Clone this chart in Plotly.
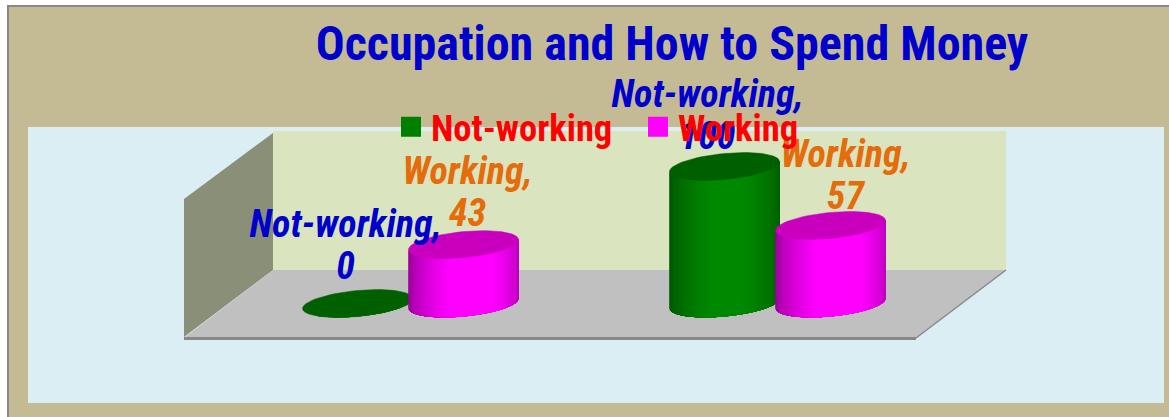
import math
import plotly.graph_objects as go

# ---- data ----
series_names = ["Not-working", "Working"]
not_working = [0, 100]
working = [43, 57]

# ---- styling ----
W, H = 1169, 417
FONT = "Roboto, Liberation Sans, Arial"
TAN = "#C4BB94"
SKY = "#DBEEF4"
WALL = "#DAE4BE"
SIDE = "#8A9078"
FLOOR = "#C0C0C0"
EDGE = "#888888"

# axis calibration: value -> pixel
PX_PER_VALUE = 1.37
PX_PER_GROUP = 367.0
Y0_PX = 303.5
X0_PX = 410.5

SERIES_OFFSET = 53.0 / PX_PER_GROUP
RX = 55.0 / PX_PER_GROUP
RY = 13.0 / PX_PER_VALUE
TILT = 5.0 / PX_PER_VALUE
STRIPS = 60
LINE_GAP = 42 / PX_PER_VALUE


def lerp(stops, f):
    for (f0, c0), (f1, c1) in zip(stops, stops[1:]):
        if f <= f1:
            k = (f - f0) / (f1 - f0) if f1 > f0 else 0
            return "rgb(%d,%d,%d)" % tuple(round(a + (b - a) * k) for a, b in zip(c0, c1))
    return "rgb(%d,%d,%d)" % stops[-1][1]


series = [
    dict(name=series_names[0], values=not_working, sign=-1, legend="#008000", top="#006000",
         label="#0000CC",
         stops=[(0, (0, 80, 0)), (0.42, (0, 136, 0)), (0.62, (0, 136, 0)), (1, (0, 90, 0))],
         dx=[-12, -17], lift=[34, 27]),
    dict(name=series_names[1], values=working, sign=1, legend="#FF00FF", top="#C800BE",
         label="#E46C0A",
         stops=[(0, (140, 0, 140)), (0.42, (255, 0, 255)), (0.68, (255, 0, 255)), (1, (176, 0, 176))],
         dx=[4, 15], lift=[28, 26]),
]

fig = go.Figure()


def ell(cx, cy, t):
    return cx + RX * math.cos(t), cy + TILT * math.cos(t) + RY * math.sin(t)


ARC = 12
for s in series:
    # cylinder bodies: each colour band paints from its left edge to the right silhouette
    for i in range(STRIPS):
        t0 = math.pi + math.pi * i / STRIPS
        f = (i + 0.5) / STRIPS
        xs, ys = [], []
        for g, v in enumerate(s["values"]):
            cx = g + s["sign"] * SERIES_OFFSET
            ts = [t0 + (2 * math.pi - t0) * k / ARC for k in range(ARC + 1)]
            low = [ell(cx, 0, t) for t in ts]
            high = [ell(cx, v, t) for t in reversed(ts)]
            for p in low + high + low[:1]:
                xs.append(p[0])
                ys.append(p[1])
            xs.append(None)
            ys.append(None)
        col = lerp(s["stops"], f)
        fig.add_trace(go.Scatter(x=xs, y=ys, mode="lines", fill="toself", fillcolor=col,
                                 line=dict(width=0), hoverinfo="skip", showlegend=False))
    # cylinder tops
    xs, ys = [], []
    for g, v in enumerate(s["values"]):
        cx = g + s["sign"] * SERIES_OFFSET
        for k in range(73):
            a, b = ell(cx, v, 2 * math.pi * k / 72)
            xs.append(a)
            ys.append(b)
        xs.append(None)
        ys.append(None)
    fig.add_trace(go.Scatter(x=xs, y=ys, mode="lines", fill="toself", fillcolor=s["top"],
                             line=dict(color=s["top"], width=0.5), hoverinfo="skip", showlegend=False))

# data labels: series name line above the value line
for s in series:
    lx = [g + s["sign"] * SERIES_OFFSET + d / PX_PER_GROUP for g, d in enumerate(s["dx"])]
    ly = [v + l / PX_PER_VALUE for v, l in zip(s["values"], s["lift"])]
    fig.add_trace(go.Scatter(
        x=lx + lx,
        y=ly + [y + LINE_GAP for y in ly],
        mode="text",
        text=[f"<b><i>{v}</i></b>" for v in s["values"]] + [f"<b><i>{s['name']},</i></b>" for _ in s["values"]],
        textposition="middle center",
        textfont=dict(family=FONT, size=38, color=s["label"]),
        cliponaxis=False, hoverinfo="skip", showlegend=False))

# legend entries
for s in series:
    fig.add_trace(go.Scatter(x=[None], y=[None], mode="markers", name=s["name"],
                             marker=dict(symbol="square", size=16, color=s["legend"],
                                         line=dict(color=s["legend"], width=4))))


def fx(p):
    return p / W


def fy(p):
    return 1 - p / H


def poly(points, fill):
    d = "M " + " L ".join(f"{fx(x):.5f} {fy(y):.5f}" for x, y in points) + " Z"
    return dict(type="path", xref="paper", yref="paper", path=d, fillcolor=fill,
                line=dict(width=0), layer="below")


def seg(a, b, width, color=EDGE):
    return dict(type="line", xref="paper", yref="paper", x0=fx(a[0]), y0=fy(a[1]), x1=fx(b[0]), y1=fy(b[1]),
                line=dict(color=color, width=width), layer="below")


shapes = [
    poly([(7, 5), (W, 5), (W, H), (7, H)], TAN),
    poly([(28, 127), (1164, 127), (1164, 403), (28, 403)], SKY),
    poly([(273, 131), (1006, 131), (1006, 270), (273, 270)], WALL),
    poly([(184, 199), (273, 133), (273, 270), (184, 337)], SIDE),
    poly([(184, 338), (273, 270), (1006, 270), (916, 338)], FLOOR),
    seg((184, 338.5), (916, 338.5), 3),
    seg((916, 338), (1006, 270), 1.5),
    seg((7, 6), (W, 6), 2),
    seg((8, 5), (8, H), 2),
]

fig.update_layout(
    width=W, height=H,
    margin=dict(l=0, r=0, t=0, b=0),
    paper_bgcolor="white", plot_bgcolor="rgba(0,0,0,0)",
    xaxis=dict(range=[-X0_PX / PX_PER_GROUP, (W - X0_PX) / PX_PER_GROUP], visible=False, fixedrange=True),
    yaxis=dict(range=[(Y0_PX - H) / PX_PER_VALUE, Y0_PX / PX_PER_VALUE], visible=False, fixedrange=True),
    shapes=shapes,
    title=dict(text="<b>Occupation and How to Spend Money</b>", x=672 / W, xanchor="center",
               y=1 - 43 / H, yanchor="middle",
               font=dict(family=FONT, size=48, color="#0000CC")),
    legend=dict(orientation="h", x=391 / W, xanchor="left", y=1 - 127 / H, yanchor="middle",
                bgcolor="rgba(0,0,0,0)", borderwidth=0,
                font=dict(family=FONT, size=36.5, color="#FF0000", weight="bold"),
                entrywidth=202, entrywidthmode="pixels", itemwidth=30, traceorder="normal"),
    showlegend=True,
)

fig.write_html("out.html", config=dict(displayModeBar=False),
               post_script="var s=document.createElement('style');s.textContent='text{font-stretch:75% !important}';"
                           "document.head.appendChild(s);document.body.style.margin='0';document.body.style.overflow='hidden';")
